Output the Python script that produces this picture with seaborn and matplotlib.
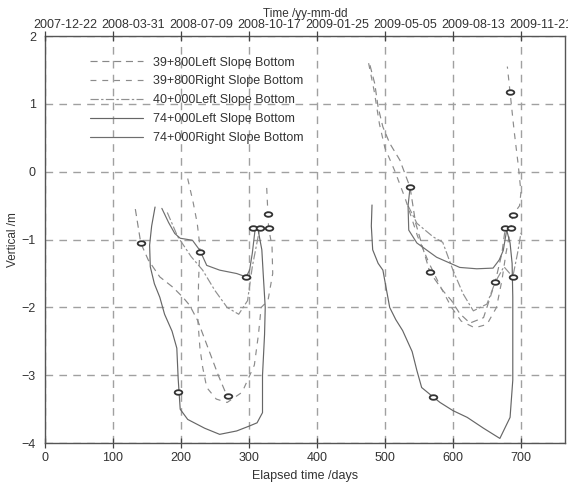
import matplotlib
matplotlib.use('Agg')
import matplotlib.pyplot as plt
import matplotlib.transforms as mtransforms
from matplotlib.path import Path
import seaborn as sns
import numpy as np

# tick values / labels
day_ticks = [0, 100, 200, 300, 400, 500, 600, 700]
date_labels = ['2007-12-22', '2008-03-31', '2008-07-09', '2008-10-17',
               '2009-01-25', '2009-05-05', '2009-08-13', '2009-11-21']
vert_ticks = [-4, -3, -2, -1, 0, 1, 2]

names = ['39+800Left Slope Bottom', '39+800Right Slope Bottom', '40+000Left Slope Bottom',
         '74+000Left Slope Bottom', '74+000Right Slope Bottom']

# 39+800 left
s1a_day = [133, 141, 152, 169, 188, 203, 213, 225, 240, 255, 268]
s1a_val = [-0.55, -1.05, -1.3, -1.55, -1.7, -1.85, -1.97, -2.2, -2.6, -3.0, -3.31]
s1b_day = [478, 485, 490, 497, 507, 522, 537, 545, 566, 585, 598, 610, 625, 645, 662, 672, 677]
s1b_val = [1.57, 1.3, 0.95, 0.66, 0.42, 0.17, -0.23, -0.75, -1.48, -1.75, -1.9, -2.09, -2.23, -2.15, -1.63, -1.2, -0.83]

# 39+800 right
s2a_day = [210, 218, 224, 228, 226, 225, 228, 232, 238, 252, 268, 290, 308, 314, 318, 328, 335, 334, 329, 328, 326]
s2a_val = [-0.1, -0.45, -0.76, -1.1, -1.6, -2.2, -2.6, -2.88, -3.18, -3.35, -3.4, -3.25, -2.85, -2.4, -2.0, -1.9, -1.5, -1.1, -0.83, -0.63, -0.2]
s2b_day = [476, 484, 492, 500, 515, 530, 548, 565, 582, 598, 612, 632, 650, 664, 672, 678, 685, 688, 698, 700, 696, 690, 684, 680]
s2b_val = [1.6, 1.2, 0.7, 0.35, 0.0, -0.4, -0.95, -1.35, -1.7, -2.0, -2.2, -2.3, -2.25, -2.0, -1.6, -1.2, -0.83, -0.64, -0.5, -0.3, 0.1, 0.6, 1.17, 1.55]

# 40+000 left
s3a_day = [180, 195, 215, 232, 250, 268, 285, 298, 305, 316]
s3a_val = [-0.6, -0.95, -1.25, -1.45, -1.75, -2.0, -2.1, -1.9, -1.4, -0.83]
s3b_day = [534, 547, 571, 585, 600, 615, 630, 650, 662, 675, 688, 695, 700]
s3b_val = [-0.5, -0.76, -0.96, -1.04, -1.45, -1.8, -2.05, -1.95, -1.63, -1.4, -1.55, -1.2, -0.9]

# 74+000 left
s4a_day = [162, 157, 154, 155, 161, 169, 176, 187, 194, 196, 199, 210, 235, 257, 282, 300, 312, 320, 320, 323, 324, 321, 319, 313]
s4a_val = [-0.52, -0.8, -1.08, -1.4, -1.65, -1.85, -2.1, -2.35, -2.6, -3.05, -3.5, -3.65, -3.78, -3.87, -3.82, -3.75, -3.7, -3.55, -3.0, -2.4, -2.0, -1.5, -1.15, -0.83]
s4b_day = [481, 480, 482, 490, 497, 507, 516, 526, 540, 547, 554, 571, 581, 600, 621, 645, 669, 684, 688, 688, 687, 684, 679]
s4b_val = [-0.49, -0.8, -1.15, -1.35, -1.45, -2.0, -2.18, -2.34, -2.65, -2.93, -3.18, -3.32, -3.4, -3.52, -3.62, -3.78, -3.93, -3.62, -3.07, -1.85, -1.35, -1.05, -0.86]

# 74+000 right
s5a_day = [172, 182, 191, 199, 217, 228, 238, 257, 282, 296, 301, 305, 309]
s5a_val = [-0.54, -0.75, -0.91, -0.98, -1.01, -1.16, -1.38, -1.45, -1.5, -1.55, -1.45, -1.2, -0.86]
s5b_day = [537, 534, 535, 547, 576, 610, 635, 659, 668, 674, 679]
s5b_val = [-0.23, -0.5, -0.86, -1.05, -1.26, -1.41, -1.43, -1.42, -1.3, -1.16, -0.86]

# "0" point markers
mark_day = [141, 196, 228, 296, 306, 316, 329, 328, 269, 537, 566, 571, 662, 688, 688, 684, 676, 685]
mark_val = [-1.05, -3.25, -1.19, -1.55, -0.83, -0.83, -0.83, -0.63, -3.31, -0.23, -1.48, -3.32, -1.63, -1.55, -0.64, 1.17, -0.83, -0.83]

sns.set_style('white')
plt.rcParams['font.family'] = ['Liberation Sans', 'DejaVu Sans']
plt.rcParams['font.size'] = 9

fig = plt.figure(figsize=(5.68, 4.87), dpi=100)
ax = fig.add_axes([0.079, 0.09, 0.916, 0.836])

series = [
    (s1a_day, s1a_val, s1b_day, s1b_val, (0, (6, 4)), '#888888'),
    (s2a_day, s2a_val, s2b_day, s2b_val, (0, (5, 5)), '#8c8c8c'),
    (s3a_day, s3a_val, s3b_day, s3b_val, (0, (7, 2, 2, 2)), '#909090'),
    (s4a_day, s4a_val, s4b_day, s4b_val, '-', '#666666'),
    (s5a_day, s5a_val, s5b_day, s5b_val, '-', '#6e6e6e'),
]
for name, (xa, ya, xb, yb, ls, col) in zip(names, series):
    sns.lineplot(x=xa, y=ya, ax=ax, sort=False, estimator=None, color=col,
                 linestyle=ls, linewidth=0.85, label=name)
    sns.lineplot(x=xb, y=yb, ax=ax, sort=False, estimator=None, color=col,
                 linestyle=ls, linewidth=0.85)

ell = Path.unit_circle().transformed(mtransforms.Affine2D().scale(1.0, 0.6))
sns.scatterplot(x=mark_day, y=mark_val, ax=ax, marker=ell, s=30,
                facecolor='white', edgecolor='#333333', linewidth=1.3, zorder=5)

ax.set_xlim(0, 765)
ax.set_ylim(-4, 2)
ax.set_xticks(day_ticks)
ax.set_yticks(vert_ticks)
ax.grid(True, color='#a0a0a0', linestyle=(0, (5.5, 4.5)), linewidth=1.0)
ax.tick_params(direction='inout', length=7, width=0.9, colors='#444444',
               labelcolor='#333333', labelsize=9, pad=3)
for sp in ax.spines.values():
    sp.set_color('#555555')
    sp.set_linewidth(1.0)
ax.set_xlabel('Elapsed time /days', color='#333333', fontsize=9, labelpad=4)
ax.set_ylabel('Vertical /m', color='#333333', fontsize=8.5, labelpad=2)

ax2 = ax.twiny()
ax2.set_xlim(ax.get_xlim())
ax2.set_xticks(day_ticks)
ax2.set_xticklabels(date_labels)
ax2.tick_params(direction='inout', length=7, width=0.9, colors='#444444',
                labelcolor='#333333', labelsize=9, pad=0)
shift = mtransforms.ScaledTranslation(-12 / 100, 0, fig.dpi_scale_trans)
for lab in ax2.get_xticklabels():
    lab.set_ha('left')
    lab.set_transform(lab.get_transform() + shift)
ax2.set_xlabel('Time /yy-mm-dd', color='#333333', fontsize=8.5, labelpad=1.5)
for sp in ax2.spines.values():
    sp.set_visible(False)

leg = ax.legend(loc='upper left', bbox_to_anchor=(0.075, 0.965), frameon=False,
                handlelength=4.2, handletextpad=0.8, labelspacing=0.55,
                borderpad=0, fontsize=9)
for t in leg.get_texts():
    t.set_color('#333333')

fig.savefig('out.png', dpi=100)
